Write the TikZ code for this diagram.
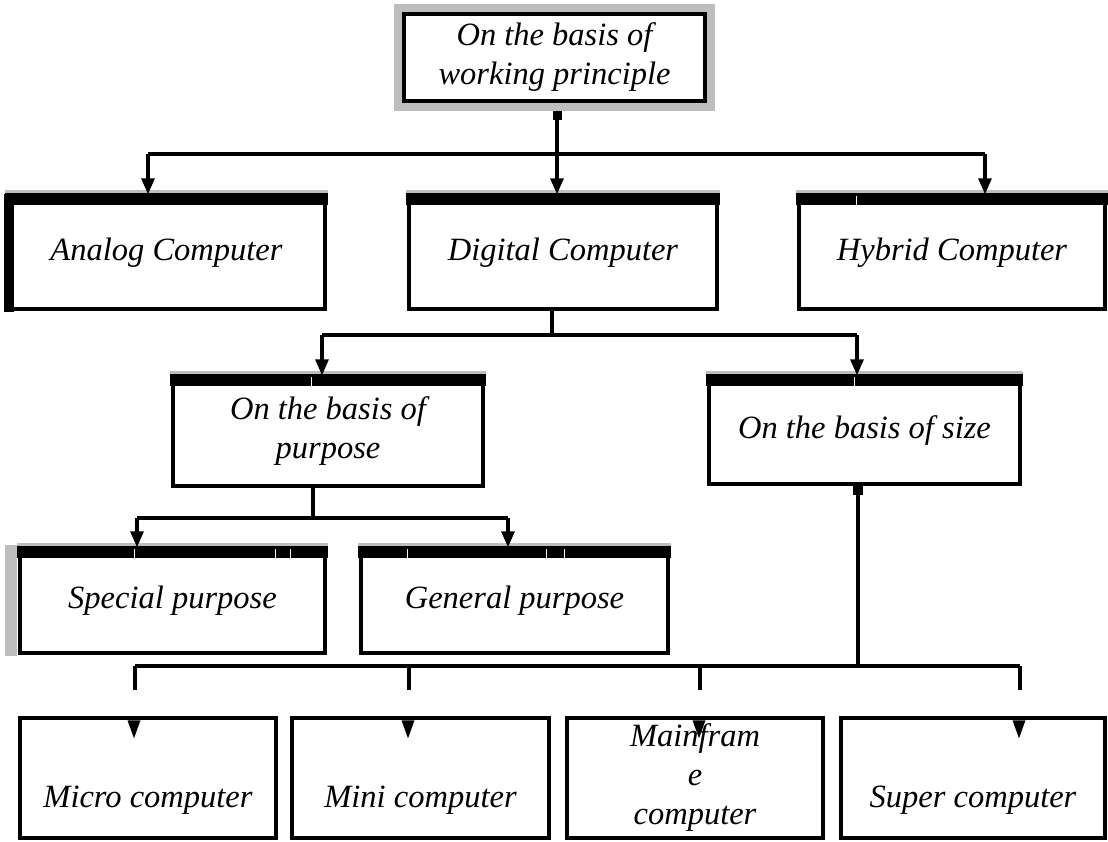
\documentclass[tikz,border=0pt]{standalone}
\usepackage{fontspec}
\setmainfont{Liberation Serif}
\usepackage{tikz}
\usetikzlibrary{arrows.meta, backgrounds}
\definecolor{barGray}{HTML}{BEBEBE}

\begin{document}
\begin{tikzpicture}[x=1pt, y=-1pt,
  every node/.style={font=\itshape\fontsize{32.5}{39}\selectfont},
  box/.style={draw, line width=3.4pt, fill=white, inner sep=0pt, align=center},
  stub/.style={fill, inner sep=0pt, minimum size=9pt},
  link/.style={line width=3.2pt},
  arr/.style={link, -{Triangle[length=16pt,width=13pt]}}]
\useasboundingbox (0,0) rectangle (1108,841);

% Define the nodes
\node[box, minimum width=301pt, minimum height=87pt] (top) at (554.5,57.5) {On the basis of\\working principle};

\node[box, minimum width=317pt, minimum height=113pt] (analog) at (166.5,252.5) {Analog Computer};
\node[box, minimum width=308pt, minimum height=113pt] (digital) at (563,252.5) {Digital Computer};
\node[box, minimum width=306pt, minimum height=113pt] (hybrid) at (952,252.5) {Hybrid Computer};

\node[box, minimum width=310pt, minimum height=109pt] (purpose) at (328,431.5) {On the basis of\\purpose};
\node[box, minimum width=311pt, minimum height=107pt] (size) at (864.5,430.5) {On the basis of size};

\node[box, minimum width=305pt, minimum height=104pt] (special) at (172.5,601) {Special purpose};
\node[box, minimum width=307pt, minimum height=104pt] (general) at (514.5,601) {General purpose};

\node[box, minimum width=256pt, minimum height=120pt] (micro) at (148,778) {\strut\\Micro computer};
\node[box, minimum width=257pt, minimum height=120pt] (mini) at (420.5,778) {\strut\\Mini computer};
\node[box, minimum width=256pt, minimum height=120pt] (mainframe) at (695,778) {Mainfram\\e\\computer};
\node[box, minimum width=264pt, minimum height=120pt] (super) at (973,778) {\strut\\Super computer};

% small squares under the boxes
\node[stub] (tsq) at (557,115) {};
\node[stub, minimum size=10pt] (ssq) at (858,490) {};

% grey frame round the top box
\begin{pgfonlayer}{background}
  \fill[barGray] ([shift={(-8pt,8pt)}]top.north west) rectangle ([shift={(8pt,-8pt)}]top.south east);
\end{pgfonlayer}

% black bands on the box tops
\foreach \n in {analog,digital,hybrid,purpose,size,special,general} {
  \fill[black] ([shift={(-1.7pt,1.7pt)}]\n.north west) rectangle ([shift={(1.7pt,-11pt)}]\n.north east);
  \fill[barGray] ([shift={(-1.7pt,1.7pt)}]\n.north west) rectangle ([shift={(1.7pt,4pt)}]\n.north east);
}
\foreach \x/\y in {856/196, 854/377, 311/377, 134/549, 275/549, 290/549, 407/549, 546/549, 564/549}
  \draw[white, line width=1pt] (\x,\y) -- ++(0,10);
\fill ([xshift=-2pt]analog.north west) rectangle ([xshift=8pt,yshift=-1.7pt]analog.south west);
\fill[barGray] ([xshift=-13pt,yshift=2pt]special.north west) rectangle ([xshift=-1.7pt,yshift=-1.7pt]special.south west);

% Draw the maps
% top box to the three kinds
\coordinate (j1) at (557,154);
\coordinate (ja) at (148,154);
\coordinate (jh) at (985,154);
\draw[link] (tsq.south) -- (j1);
\draw[link] (ja) -- (jh);
\draw[arr] (ja) -- (analog.north -| ja);
\draw[arr] (j1) -- (digital.north -| j1);
\draw[arr] (jh) -- (hybrid.north -| jh);

% digital computer to purpose and size
\coordinate (j2) at (552,335);
\coordinate (jp) at (322,335);
\coordinate (js) at (857,335);
\draw[link] (digital.south -| j2) -- (j2);
\draw[link] (jp) -- (js);
\draw[arr] (jp) -- (purpose.north -| jp);
\draw[arr] (js) -- (size.north -| js);

% purpose to special and general
\coordinate (j3) at (313,518);
\coordinate (jsp) at (137,518);
\coordinate (jgp) at (508,518);
\draw[link] (purpose.south -| j3) -- (j3);
\draw[link] (jsp) -- (jgp);
\draw[arr] (jsp) -- (special.north -| jsp);
\draw[arr] (jgp) -- (general.north -| jgp);

% size to the four computers (heads sit inside the boxes)
\coordinate (j4) at (858,666);
\coordinate (jmi) at (135,666);
\coordinate (jmn) at (409,666);
\coordinate (jmf) at (700,666);
\coordinate (jsu) at (1020,666);
\draw[link] (ssq.south) -- (j4);
\draw[link] (jmi) -- (jsu);
\foreach \c/\n in {jmi/micro, jmn/mini, jmf/mainframe, jsu/super} {
  \draw[link, shorten >=26pt] (\c) -- (\c |- \n.north);
  \fill ([xshift=-1pt]\c |- \n.north) ++(-6.5,4) -- ++(13,0) -- ++(-6.5,18) -- cycle;
}
\end{tikzpicture}
\end{document}
